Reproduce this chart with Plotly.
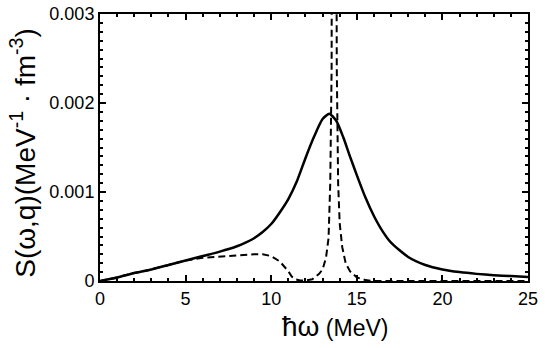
import plotly.graph_objects as go

# energy grid (MeV) and strength functions
x_solid = [0, 1, 2, 3, 4, 5, 6, 7, 8, 8.5, 9, 9.5, 10, 10.5, 11, 11.5, 12, 12.5, 13,
           13.4, 13.8, 14.2, 14.6, 15, 15.5, 16, 16.5, 17, 18, 19, 20, 21, 22, 23, 24, 25]
s_solid = [0, 0.00004, 0.00009, 0.00013, 0.00018, 0.00023, 0.00028, 0.00033,
           0.00039, 0.00043, 0.00048, 0.00055, 0.00064, 0.00077, 0.00092, 0.00112,
           0.00138, 0.00162, 0.00182, 0.00188, 0.0018, 0.00162, 0.0014, 0.00119,
           0.00094, 0.00073, 0.00056, 0.00043, 0.00027, 0.00018, 0.00013, 0.0001,
           0.00008, 0.000065, 0.000055, 0.000045]

x_dash = [0, 1, 2, 3, 4, 5, 6, 7, 8, 9, 9.5, 10, 10.5, 10.8, 11.0, 11.2, 11.4,
          11.7, 12.0, 12.4, 12.8, 13.0, 13.2, 13.35, 13.45, 13.53, 13.6, 13.68,
          13.76, 13.83, 13.91, 14.0, 14.15, 14.35, 14.6, 15.0, 15.5, 16, 20, 25]
s_dash = [0, 0.00004, 0.00009, 0.00013, 0.00018, 0.00023, 0.00026, 0.000275,
          0.00029, 0.0003, 0.0003, 0.00028, 0.00022, 0.00016, 0.00011, 0.00005,
          0.00002, 0.000005, 0.000005, 0.00002, 0.00008, 0.00013, 0.00026, 0.00048,
          0.0011, 0.0024, 0.008, 0.03, 0.008, 0.0024, 0.0011, 0.00065, 0.00038,
          0.0002, 0.00011, 0.00004, 0.00001, 0, 0, 0]

x_ticks = [0, 5, 10, 15, 20, 25]
y_ticks = [0, 0.001, 0.002, 0.003]
y_ticktext = ['0', '0.001', '0.002', '0.003']

font = 'Liberation Sans, Arial, Helvetica, sans-serif'

fig = go.Figure()
fig.add_trace(go.Scatter(x=x_solid, y=s_solid, mode='lines',
                         line=dict(color='black', width=2.5, shape='spline', smoothing=0.6),
                         showlegend=False))
fig.add_trace(go.Scatter(x=x_dash, y=s_dash, mode='lines',
                         line=dict(color='black', width=2, dash='7px,4px'),
                         showlegend=False))

axis_common = dict(
  showgrid=False, zeroline=False, automargin=False,
  showline=True, linecolor='black', linewidth=2, mirror='ticks',
  ticks='inside', ticklen=6, tickwidth=2, tickcolor='black',
  ticklabeloverflow='allow',
  tickfont=dict(family=font, size=18, color='black'),
)

fig.update_xaxes(range=[0, 25], tickvals=x_ticks,
                 minor=dict(dtick=1, ticks='inside', ticklen=3, tickwidth=2, tickcolor='black'),
                 **axis_common)
fig.update_yaxes(range=[0, 0.003], tickvals=y_ticks, ticktext=y_ticktext,
                 minor=dict(dtick=0.0001, ticks='inside', ticklen=3, tickwidth=2, tickcolor='black'),
                 **axis_common)

fig.add_annotation(text='<span style="font-size:28px">ħω</span> (MeV)', xref='paper', yref='paper',
                   x=0.55, y=-0.172, xanchor='center', yanchor='middle', showarrow=False,
                   font=dict(family=font, size=23, color='black'))
fig.add_annotation(text='S(ω,q)(MeV<sup>-1</sup> · fm<sup>-3</sup>)', xref='paper', yref='paper',
                   x=-0.18, y=0.48, xanchor='center', yanchor='middle', textangle=-90,
                   showarrow=False, font=dict(family=font, size=28, color='black'))

fig.update_layout(
  width=545, height=348,
  margin=dict(l=100, r=17, t=14, b=67),
  plot_bgcolor='white', paper_bgcolor='white',
)

# drop the default 8px page margin so the figure sits at the window corner
fig.write_html('out.html', config={'displayModeBar': False},
               post_script="document.body.style.margin='0';")
